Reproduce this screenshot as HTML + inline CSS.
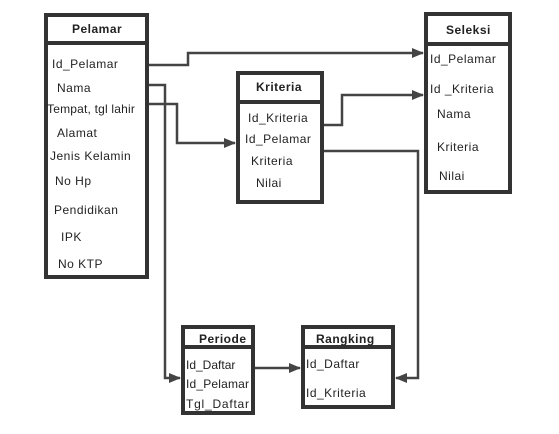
<html><body style="margin:0;background:#fff">
<svg width="559" height="434" xmlns="http://www.w3.org/2000/svg" font-family="Liberation Sans, sans-serif" font-size="12" fill="#222">
<defs><marker id="a" markerWidth="12" markerHeight="10" refX="11" refY="5" orient="auto" markerUnits="userSpaceOnUse"><path d="M0,0 L12,5 L0,10z" fill="#444"/></marker></defs>
<g fill="none" stroke="#444" stroke-width="2.5">
<path d="M148,65 H188 V53 H423" marker-end="url(#a)"/>
<path d="M148,85 H165 V378 H180" marker-end="url(#a)"/>
<path d="M148,104 H177 V143 H235" marker-end="url(#a)"/>
<path d="M322,125 H342 V95 H423" marker-end="url(#a)"/>
<path d="M322,151 H418 V378 H396" marker-end="url(#a)"/>
<path d="M253,368 H300" marker-end="url(#a)"/>
</g>
<g fill="#fff" stroke="#333" stroke-width="4">
<rect x="46" y="15" width="101" height="262"/><line x1="46" y1="43" x2="147" y2="43"/>
<rect x="426" y="14" width="84" height="178"/><line x1="426" y1="44" x2="510" y2="44"/>
<rect x="238" y="73" width="84" height="129"/><line x1="238" y1="102" x2="322" y2="102"/>
<rect x="183" y="327" width="70" height="86"/><line x1="183" y1="347" x2="253" y2="347"/>
<rect x="303" y="327" width="90" height="80"/><line x1="303" y1="347" x2="393" y2="347"/>
</g>
<g letter-spacing="0.5">
<text x="72" y="33" font-weight="bold">Pelamar</text>
<text x="52" y="68">Id_Pelamar</text>
<text x="57" y="92">Nama</text>
<text x="47" y="113" letter-spacing="0.2">Tempat, tgl lahir</text>
<text x="57" y="137">Alamat</text>
<text x="50" y="160">Jenis Kelamin</text>
<text x="55" y="185">No Hp</text>
<text x="54" y="214">Pendidikan</text>
<text x="61" y="241">IPK</text>
<text x="58" y="268">No KTP</text>
<text x="446" y="34" font-weight="bold">Seleksi</text>
<text x="430" y="63">Id_Pelamar</text>
<text x="430" y="93">Id _Kriteria</text>
<text x="437" y="118">Nama</text>
<text x="437" y="151">Kriteria</text>
<text x="439" y="180">Nilai</text>
<text x="256" y="91" font-weight="bold">Kriteria</text>
<text x="248" y="122">Id_Kriteria</text>
<text x="245" y="143">Id_Pelamar</text>
<text x="251" y="165">Kriteria</text>
<text x="256" y="187">Nilai</text>
<text x="199" y="343" font-weight="bold">Periode</text>
<text x="186" y="369" letter-spacing="0">Id_Daftar</text>
<text x="186" y="388" letter-spacing="0" textLength="63">Id_Pelamar</text>
<text x="186" y="408" letter-spacing="0" textLength="63">Tgl_Daftar</text>
<text x="316" y="343" font-weight="bold">Rangking</text>
<text x="306" y="368">Id_Daftar</text>
<text x="306" y="397">Id_Kriteria</text>
</g>
</svg>
</body></html>
